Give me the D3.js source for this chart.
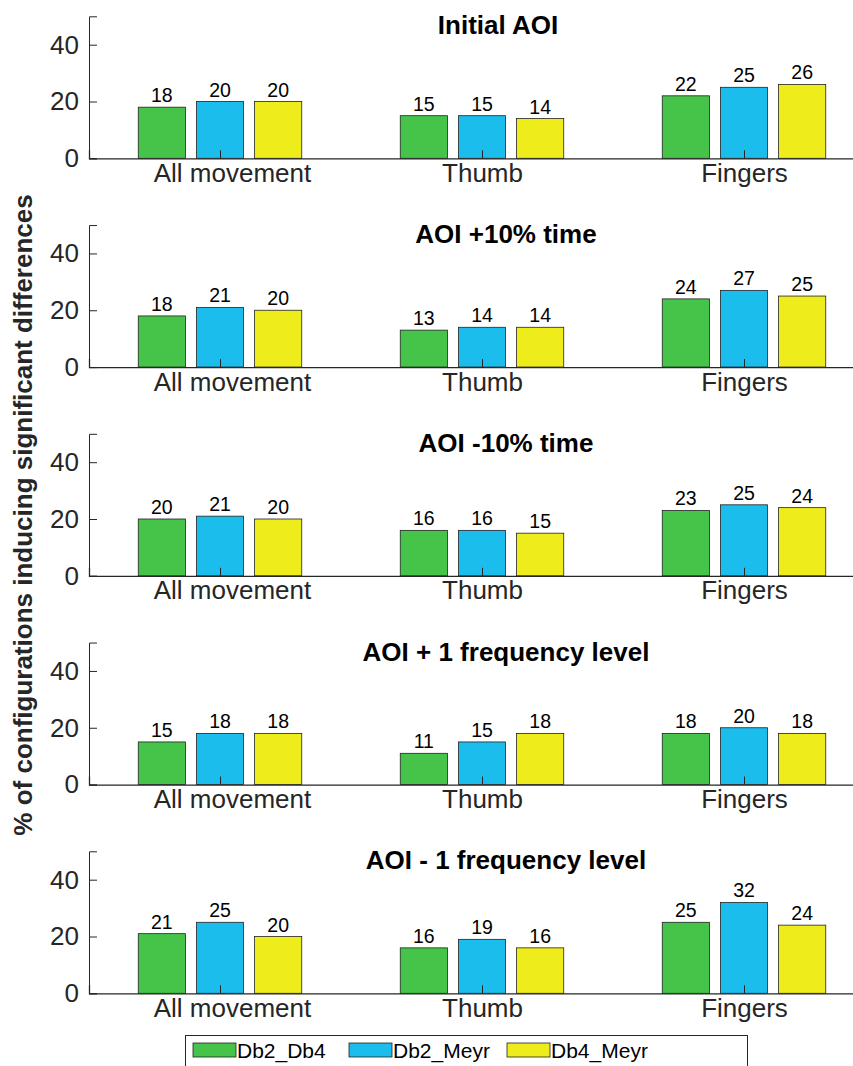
<!DOCTYPE html>
<html>
<head>
<meta charset="utf-8">
<script src="https://cdn.jsdelivr.net/npm/d3@7"></script>
<style>
  body { margin: 0; background: #fff; }
  svg { display: block; font-family: "Liberation Sans", Arial, sans-serif; }
</style>
</head>
<body>
<script>
// data
var categories = ["All movement", "Thumb", "Fingers"];
var seriesNames = ["Db2_Db4", "Db2_Meyr", "Db4_Meyr"];
var seriesColors = ["#46c44a", "#1bbdec", "#efec1c"];
var panelTitles = ["Initial AOI", "AOI +10% time", "AOI -10% time",
                   "AOI + 1 frequency level", "AOI - 1 frequency level"];
var yTicks = [0, 20, 40];
// values[panel][series][category]
var initialAOI   = [[18, 15, 22], [20, 15, 25], [20, 14, 26]];
var plus10time   = [[18, 13, 24], [21, 14, 27], [20, 14, 25]];
var minus10time  = [[20, 16, 23], [21, 16, 25], [20, 15, 24]];
var plus1freq    = [[15, 11, 18], [18, 15, 20], [18, 18, 18]];
var minus1freq   = [[21, 16, 25], [25, 19, 32], [20, 16, 24]];
var panels = [initialAOI, plus10time, minus10time, plus1freq, minus1freq];

var W = 853, H = 1066;
var svg = d3.select("body").append("svg")
    .attr("width", W).attr("height", H);

var x = d3.scaleLinear().domain([0.5, 3.5]).range([89, 875]);
var barW = 0.18, offs = [-0.222, 0, 0.222];
var fam = "Liberation Sans, Arial, sans-serif";

panels.forEach(function (vals, p) {
  var base = 158.3 + p * 208.75;
  var y = d3.scaleLinear().domain([0, 50]).range([base, base - 142]);
  var g = svg.append("g");

  // bars
  vals.forEach(function (ser, s) {
    g.selectAll(".bar" + s).data(ser).enter().append("rect")
      .attr("x", function (d, i) { return x(i + 1 + offs[s] - barW / 2); })
      .attr("width", x(barW) - x(0))
      .attr("y", function (d) { return y(d); })
      .attr("height", function (d) { return y(0) - y(d); })
      .attr("fill", seriesColors[s])
      .attr("stroke", "#222").attr("stroke-width", 0.8);
    g.selectAll(".lab" + s).data(ser).enter().append("text")
      .attr("x", function (d, i) { return x(i + 1 + offs[s]); })
      .attr("y", function (d) { return y(d) - 5; })
      .attr("text-anchor", "middle")
      .style("font-size", "19.5px").attr("fill", "#000")
      .text(function (d) { return d; });
  });

  // y axis
  var ya = g.append("g").attr("transform", "translate(89,0)")
    .call(d3.axisLeft(y).tickValues(yTicks).tickSize(-8).tickPadding(10));
  ya.select(".domain").attr("stroke", "#262626");
  ya.selectAll(".tick line").attr("stroke", "#262626");
  ya.selectAll("text").style("font-size", "26px").attr("fill", "#262626")
    .style("font-family", fam);

  // x axis
  var xa = g.append("g").attr("transform", "translate(0," + base + ")")
    .call(d3.axisBottom(x).tickValues([1, 2, 3]).tickSize(-8).tickPadding(5)
      .tickFormat(function (d) { return categories[d - 1]; }));
  xa.select(".domain").attr("stroke", "#262626").attr("stroke-width", 1.3);
  xa.selectAll(".tick line").attr("stroke", "#262626");
  xa.selectAll("text").style("font-size", "26px").attr("fill", "#262626")
    .style("font-family", fam)
    .attr("dx", function (d) { return d === 1 ? 12 : 0; }); // first label sits right of its tick

  // title
  g.append("text").attr("x", p === 0 ? 498 : 506).attr("y", base - 124)
    .attr("text-anchor", "middle")
    .style("font-size", "26px").style("font-weight", "bold").attr("fill", "#000")
    .text(panelTitles[p]);
});

// y label
svg.append("text")
  .attr("transform", "translate(32,515) rotate(-90)")
  .attr("text-anchor", "middle")
  .style("font-size", "26px").style("font-weight", "bold").attr("fill", "#262626")
  .text("% of configurations inducing significant differences");

// legend
var leg = svg.append("g");
leg.append("rect").attr("x", 185.5).attr("y", 1035.5).attr("width", 562).attr("height", 40)
  .attr("fill", "#fff").attr("stroke", "#262626");
var legX = [193, 349, 507];
seriesNames.forEach(function (n, i) {
  leg.append("rect").attr("x", legX[i]).attr("y", 1043).attr("width", 43).attr("height", 14)
    .attr("fill", seriesColors[i]).attr("stroke", "#222").attr("stroke-width", 0.8);
  leg.append("text").attr("x", legX[i] + 44).attr("y", 1058)
    .style("font-size", "21px").attr("fill", "#000").text(n);
});
</script>
</body>
</html>
